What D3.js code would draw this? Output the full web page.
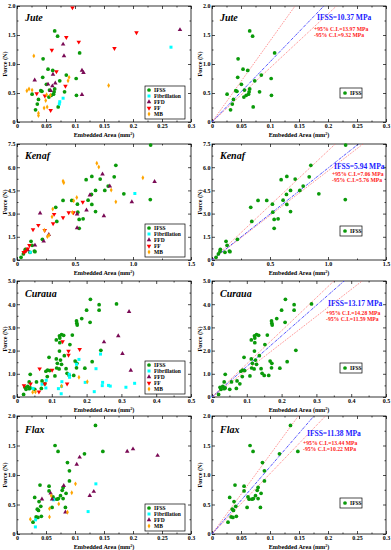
<!DOCTYPE html>
<html>
<head>
<meta charset="utf-8">
<script src="https://cdn.jsdelivr.net/npm/d3@7"></script>
<style>
  body { margin: 0; background: #fff; }
  svg { display: block; font-family: "Liberation Serif", "Times New Roman", serif; font-weight: bold; }
</style>
</head>
<body>
<svg id="chart"></svg>
<script>
// ---- data (area mm^2, force N) ----
var juteIFSS = [[0.065,1.57],[0.070,1.48],[0.108,1.19],[0.045,1.09],[0.0535,0.91],[0.0616,0.89],[0.085,0.81],
  [0.0737,0.71],[0.0443,0.77],[0.102,0.75],[0.0507,0.65],[0.026,0.48],[0.041,0.54],[0.043,0.53],[0.056,0.55],
  [0.065,0.57],[0.064,0.52],[0.063,0.48],[0.059,0.46],[0.055,0.43],[0.082,0.52],[0.1025,0.46],[0.037,0.39],
  [0.035,0.31],[0.032,0.21],[0.071,0.26]];
var juteFib = [[0.2655,1.29],[0.0795,0.41],[0.0737,0.35],[0.073,0.31]];
var juteFFD = [[0.281,1.59],[0.0795,1.34],[0.081,1.14],[0.112,0.89],[0.1146,0.85],[0.062,0.82],[0.0305,0.72],
  [0.0535,0.65],[0.066,0.67],[0.058,0.54],[0.061,0.62],[0.112,0.47]];
var juteFF = [[0.0956,1.97],[0.206,1.54],[0.085,1.46],[0.1065,1.38],[0.060,1.24],[0.168,1.27],[0.068,0.87],
  [0.0835,0.62],[0.034,0.49],[0.048,0.45],[0.058,0.20]];
var juteMB = [[0.029,1.14],[0.158,0.63],[0.0898,0.77],[0.088,0.71],[0.0207,0.57],[0.017,0.54],[0.026,0.55],
  [0.051,0.47],[0.0576,0.46],[0.0495,0.37],[0.0467,0.24],[0.052,0.26],[0.037,0.15],[0.037,0.11]];

var kenafIFSS = [[1.152,7.43],[0.852,6.12],[0.838,5.38],[0.645,5.40],[0.596,5.19],[0.717,5.23],[0.921,4.28],
  [1.149,3.91],[0.786,4.78],[0.757,4.50],[0.677,4.50],[0.642,4.24],[0.613,3.87],[0.645,3.59],[0.472,3.85],
  [0.397,3.85],[0.521,3.61],[0.524,3.09],[0.677,3.13],[0.334,3.41],[0.343,2.49],[0.57,2.66],[0.536,2.62],
  [0.536,2.05],[0.219,1.34],[0.121,1.21],[0.13,0.95],[0.112,0.50],[0.15,0.58],[0.155,0.54],[0.072,0.69],
  [0.069,0.56],[0.055,0.39],[0.035,0.17]];
var kenafFib = [[1.016,4.30],[0.115,0.50]];
var kenafFFD = [[1.186,5.06],[0.737,5.55],[0.800,4.78],[0.628,4.19],[0.99,3.76],[0.599,3.22],[0.518,2.96],
  [0.749,2.85],[0.199,3.03],[0.518,2.07],[0.274,1.64],[0.23,1.21],[0.155,0.95],[0.092,0.65]];
var kenafFF = [[0.567,3.74],[0.446,3.07],[0.487,3.07],[0.32,2.96],[0.397,2.74],[0.311,2.36],[0.184,2.25],
  [0.239,1.92],[0.138,1.97],[0.107,0.95],[0.092,0.72],[0.058,0.50],[0.075,0.58]];
var kenafMB = [[0.688,6.25],[0.705,6.01],[0.397,5.10],[0.403,4.99],[1.085,5.32],[0.812,4.52],[0.852,3.76],
  [0.515,4.04],[0.489,3.83],[0.478,3.07],[0.308,3.29],[0.302,2.79],[0.236,1.92],[0.276,1.60],[0.262,1.51]];

var curauaIFSS = [[0.211,4.21],[0.236,3.98],[0.286,4.01],[0.236,3.74],[0.2,3.74],[0.186,3.38],[0.171,3.28],
  [0.172,3.18],[0.173,3.10],[0.21,3.22],[0.159,2.67],[0.128,2.69],[0.122,2.64],[0.134,2.66],[0.113,2.46],
  [0.123,2.54],[0.123,2.34],[0.241,2.01],[0.122,1.98],[0.152,2.26],[0.136,1.78],[0.092,1.71],[0.113,1.64],
  [0.125,1.59],[0.167,1.55],[0.172,1.45],[0.128,1.41],[0.116,1.45],[0.216,1.52],[0.171,1.26],[0.195,1.24],
  [0.114,1.25],[0.121,1.21],[0.088,1.16],[0.094,1.14],[0.083,1.11],[0.141,1.22],[0.144,1.02],[0.109,0.91],
  [0.15,0.93],[0.163,0.93],[0.038,0.98],[0.087,0.88],[0.072,0.69],[0.056,0.65],[0.035,0.65],[0.08,0.57],
  [0.07,0.37],[0.031,0.46],[0.023,0.42],[0.026,0.33],[0.035,0.36],[0.019,0.11],[0.051,0.33],[0.038,0.39]];
var curauaFib = [[0.338,0.59],[0.313,0.42],[0.263,0.50],[0.268,0.47],[0.24,1.85],[0.227,1.22],[0.196,0.63],
  [0.222,0.23],[0.246,0.63],[0.245,0.49],[0.178,1.62],[0.171,1.41],[0.15,0.98],[0.151,0.85],[0.129,0.66],
  [0.128,0.46],[0.127,0.14],[0.119,0.36],[0.084,0.72],[0.083,0.39],[0.046,0.37],[0.072,0.55]];
var curauaFFD = [[0.322,3.68],[0.291,2.63],[0.25,2.37],[0.303,1.87],[0.327,1.15]];
var curauaFF = [[0.131,2.39],[0.18,2.05],[0.148,1.98],[0.148,1.81],[0.065,1.22],[0.101,1.16],[0.144,0.57],
  [0.08,0.57],[0.02,0.49],[0.039,0.57],[0.063,0.22]];
var curauaMB = [[0.178,0.85],[0.202,0.66],[0.128,0.47],[0.053,0.22],[0.045,0.21]];

var flaxIFSS = [[0.1353,1.84],[0.0656,1.50],[0.0708,1.40],[0.1163,1.36],[0.148,1.40],[0.087,1.21],[0.0904,1.07],
  [0.0904,0.90],[0.0397,0.83],[0.0553,0.81],[0.0553,0.73],[0.0305,0.62],[0.038,0.55],[0.041,0.47],[0.035,0.42],
  [0.037,0.40],[0.033,0.29],[0.036,0.28],[0.042,0.30],[0.0276,0.20],[0.062,0.63],[0.069,0.59],[0.0714,0.60],
  [0.075,0.65],[0.078,0.74],[0.0795,0.60],[0.0795,0.79],[0.0846,0.69],[0.0605,0.45],[0.0835,0.45],[0.064,0.59]];
var flaxFib = [[0.136,0.85],[0.1226,0.38],[0.063,0.58],[0.032,0.24],[0.0317,0.12]];
var flaxFFD = [[0.2424,1.33],[0.2,1.44],[0.19,1.40],[0.108,1.30],[0.103,1.18],[0.0806,0.82],[0.1324,0.72],
  [0.1255,0.65],[0.058,0.69],[0.0605,0.59],[0.043,0.59],[0.0835,0.37]];
var flaxMB = [[0.1008,0.85],[0.0944,0.70],[0.072,0.51],[0.056,0.43],[0.059,0.65],[0.056,0.29],[0.087,0.37],[0.023,0.25]];

// IFSS fits: [mean, +95%, -95%]
var juteFit = [10.37, 13.97, 9.32];
var kenafFit = [5.94, 7.06, 5.76];
var curauaFit = [13.17, 14.28, 11.59];
var flaxFit = [11.38, 13.44, 10.22];

var seriesNames = ["IFSS", "Fibrillation", "FFD", "FF", "MB"];
var seriesColor = {"IFSS": "#0a9a0a", "Fibrillation": "#00ffff", "FFD": "#7a0a55", "FF": "#ff0000", "MB": "#ffa500"};
var seriesSym = {"IFSS": d3.symbolCircle, "Fibrillation": d3.symbolSquare, "FFD": d3.symbolTriangle,
  "FF": d3.symbolTriangle, "MB": d3.symbolDiamond};

var svg = d3.select("#chart").attr("width", 391).attr("height", 550);

var panels = [
  {name: "Jute", top: 6, h: 116, xMax: 0.3, xStep: 0.05, yMax: 2.0, yStep: 0.5, xFmt: d => d === 0 ? "0" : String(+d.toFixed(2)),
   yFmt: d => d === 0 ? "0" : d.toFixed(1),
   series: {"IFSS": juteIFSS, "Fibrillation": juteFib, "FFD": juteFFD, "FF": juteFF, "MB": juteMB}, fit: juteFit,
   ann: {x: 317, y: 11, ci: 314, y1: 23, y2: 28.5}, nameY: 15},
  {name: "Kenaf", top: 144, h: 116, xMax: 1.5, xStep: 0.5, yMax: 7.5, yStep: 1.5, xFmt: d => d === 0 ? "0" : d.toFixed(1),
   yFmt: d => d === 0 ? "0" : d.toFixed(1),
   series: {"IFSS": kenafIFSS, "Fibrillation": kenafFib, "FFD": kenafFFD, "FF": kenafFF, "MB": kenafMB}, fit: kenafFit,
   ann: {x: 334, y: 22, ci: 332, y1: 30, y2: 35.5}, nameY: 15},
  {name: "Curaua", top: 281, h: 116, xMax: 0.5, xStep: 0.1, yMax: 5.0, yStep: 1.0, xFmt: d => d === 0 ? "0" : d.toFixed(1),
   yFmt: d => d === 0 ? "0" : d.toFixed(1),
   series: {"IFSS": curauaIFSS, "Fibrillation": curauaFib, "FFD": curauaFFD, "FF": curauaFF, "MB": curauaMB}, fit: curauaFit,
   ann: {x: 328, y: 22, ci: 326, y1: 32, y2: 37.5}, nameY: 16},
  {name: "Flax", top: 416, h: 118, xMax: 0.3, xStep: 0.05, yMax: 2.0, yStep: 0.5, xFmt: d => d === 0 ? "0" : String(+d.toFixed(2)),
   yFmt: d => d === 0 ? "0" : d.toFixed(1),
   series: {"IFSS": flaxIFSS, "Fibrillation": flaxFib, "FFD": flaxFFD, "MB": flaxMB}, fit: flaxFit,
   ann: {x: 307, y: 17, ci: 303, y1: 27, y2: 32.5}, nameY: 17}
];

var cols = [17, 212];
var plotW = 174;

function symPath(name) {
  var s = name === "IFSS" ? 11 : name === "Fibrillation" ? 9 : name === "MB" ? 7 : 9;
  return d3.symbol().type(seriesSym[name]).size(s)();
}

function drawPanel(p, col, full, idx) {
  var left = cols[col];
  var g = svg.append("g").attr("transform", "translate(" + left + "," + p.top + ")");
  var x = d3.scaleLinear().domain([0, p.xMax]).range([0, plotW]);
  var y = d3.scaleLinear().domain([0, p.yMax]).range([p.h, 0]);
  var xMajor = d3.range(0, p.xMax + 1e-9, p.xStep);
  var yMajor = d3.range(0, p.yMax + 1e-9, p.yStep);
  var xMinor = d3.range(p.xStep / 2, p.xMax, p.xStep);
  var yMinor = d3.range(p.yStep / 2, p.yMax, p.yStep);

  var clipId = "clip" + idx + "_" + col;
  g.append("clipPath").attr("id", clipId).append("rect").attr("width", plotW).attr("height", p.h);

  function axisStyle(sel) {
    sel.select(".domain").remove();
    sel.selectAll("line").attr("stroke", "#000").attr("stroke-width", 0.7);
    sel.selectAll("text").attr("font-size", 6).attr("font-family", "Liberation Serif, serif").attr("font-weight", "bold").attr("fill", "#000");
  }
  // bottom
  g.append("g").attr("transform", "translate(0," + p.h + ")")
    .call(d3.axisBottom(x).tickValues(xMajor).tickSize(-3).tickPadding(2).tickFormat(p.xFmt)).call(axisStyle);
  g.append("g").attr("transform", "translate(0," + p.h + ")")
    .call(d3.axisBottom(x).tickValues(xMinor).tickSize(-1.5).tickFormat("")).call(axisStyle);
  g.append("g").call(d3.axisTop(x).tickValues(xMajor).tickSize(-3).tickFormat("")).call(axisStyle);
  g.append("g").call(d3.axisTop(x).tickValues(xMinor).tickSize(-1.5).tickFormat("")).call(axisStyle);
  // left
  g.append("g").call(d3.axisLeft(y).tickValues(yMajor).tickSize(-3).tickPadding(1.5).tickFormat(p.yFmt)).call(axisStyle);
  g.append("g").call(d3.axisLeft(y).tickValues(yMinor).tickSize(-1.5).tickFormat("")).call(axisStyle);
  g.append("g").attr("transform", "translate(" + plotW + ",0)")
    .call(d3.axisRight(y).tickValues(yMajor).tickSize(-3).tickFormat("")).call(axisStyle);
  g.append("g").attr("transform", "translate(" + plotW + ",0)")
    .call(d3.axisRight(y).tickValues(yMinor).tickSize(-1.5).tickFormat("")).call(axisStyle);

  g.append("rect").attr("width", plotW).attr("height", p.h).attr("fill", "none").attr("stroke", "#000").attr("stroke-width", 0.8);

  // axis titles
  var xt = g.append("text").attr("x", plotW / 2).attr("y", p.h + 15).attr("text-anchor", "middle")
    .attr("font-size", 6.2).text("Embedded Area (mm");
  xt.append("tspan").attr("font-size", 4).attr("dy", -2.5).text("2");
  xt.append("tspan").attr("dy", 2.5).text(")");
  g.append("text").attr("transform", "translate(" + (-10) + "," + (p.h / 2) + ") rotate(-90)")
    .attr("text-anchor", "middle").attr("font-size", 6.2).text("Force (N)");

  // fit lines
  if (!full) {
    var lines = [
      {k: p.fit[1], color: "#ff5a5a", dash: "1,1.2"},
      {k: p.fit[2], color: "#ff5a5a", dash: "1,1.2"},
      {k: p.fit[0], color: "#2a2aff", dash: "3,1,1,1"}
    ];
    var line = d3.line().x(d => x(d[0])).y(d => y(d[1]));
    g.append("g").attr("clip-path", "url(#" + clipId + ")").selectAll("path").data(lines).enter().append("path")
      .attr("d", d => line([[0, 0], [p.xMax, d.k * p.xMax]]))
      .attr("fill", "none").attr("stroke", d => d.color).attr("stroke-width", 0.8).attr("stroke-dasharray", d => d.dash);
  }

  // points
  var names = full ? seriesNames.filter(n => p.series[n]) : ["IFSS"];
  names.forEach(function (n) {
    var flip = n === "FF" ? " rotate(180)" : "";
    g.append("g").selectAll("path").data(p.series[n]).enter().append("path")
      .attr("d", symPath(n))
      .attr("transform", d => "translate(" + x(d[0]) + "," + y(d[1]) + ")" + flip)
      .attr("fill", seriesColor[n]);
  });

  // panel name
  g.append("text").attr("x", 8).attr("y", p.nameY).attr("font-size", 10).attr("font-style", "italic").text(p.name);

  // legend
  if (full) {
    var lx = 128, rowH = 6;
    var ly = p.h - 4 - names.length * rowH - 2;
    var lg = g.append("g").attr("transform", "translate(" + lx + "," + ly + ")");
    lg.append("rect").attr("width", 40).attr("height", names.length * rowH + 3).attr("fill", "#fff")
      .attr("stroke", "#000").attr("stroke-width", 0.7);
    names.forEach(function (n, i) {
      var flip = n === "FF" ? " rotate(180)" : "";
      lg.append("path").attr("d", symPath(n)).attr("fill", seriesColor[n])
        .attr("transform", "translate(4," + (4 + i * rowH) + ")" + flip);
      lg.append("text").attr("x", 9).attr("y", 6 + i * rowH).attr("font-size", 5.5).text(n);
    });
  } else {
    var lg2 = g.append("g").attr("transform", "translate(" + (340 - left) + "," + 82 + ")");
    lg2.append("rect").attr("width", 22).attr("height", 10).attr("fill", "#fff").attr("stroke", "#000").attr("stroke-width", 0.7);
    lg2.append("path").attr("d", symPath("IFSS")).attr("fill", seriesColor["IFSS"]).attr("transform", "translate(5,5)");
    lg2.append("text").attr("x", 10).attr("y", 7).attr("font-size", 5.5).text("IFSS");

    g.append("text").attr("x", p.ann.x - left).attr("y", p.ann.y + 2.5).attr("font-size", 7.5).attr("fill", "#2020ff")
      .text("IFSS=" + p.fit[0].toFixed(2) + " MPa");
    g.append("text").attr("x", p.ann.ci - left).attr("y", p.ann.y1 + 2).attr("font-size", 5.7).attr("fill", "#ff2020")
      .text("+95% C.I.=" + p.fit[1].toFixed(2) + " MPa");
    g.append("text").attr("x", p.ann.ci - left).attr("y", p.ann.y2 + 2).attr("font-size", 5.7).attr("fill", "#ff2020")
      .text("-95% C.I.=" + p.fit[2].toFixed(2) + " MPa");
  }
}

panels.forEach(function (p, i) {
  drawPanel(p, 0, true, i);
  drawPanel(p, 1, false, i);
});
</script>
</body>
</html>
